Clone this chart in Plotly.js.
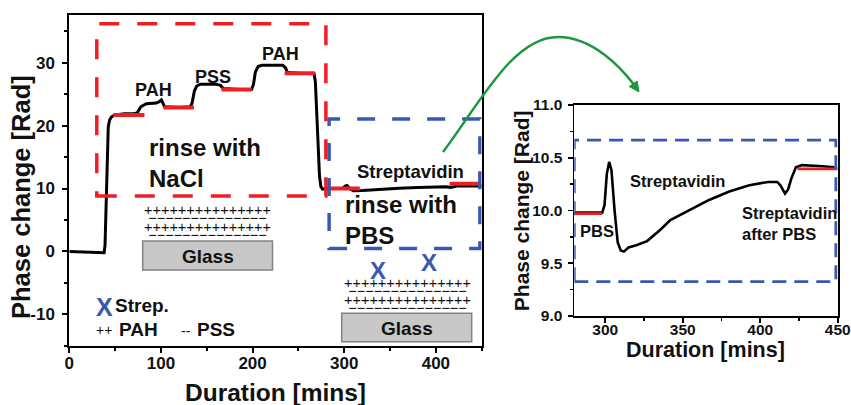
<!DOCTYPE html>
<html>
<head>
<meta charset="utf-8">
<script src="https://cdn.plot.ly/plotly-3.0.1.min.js"></script>
<style>html,body{margin:0;padding:0;background:#fff;}#chart{width:851px;height:405px;}</style>
</head>
<body>
<div id="chart"></div>
<script>
// ---------- DATA ----------
// main panel: full layer-by-layer deposition trace
var mainTime  = [0, 20, 37, 38, 39, 40, 41.2, 42.5, 44, 46, 50, 60, 70, 74, 78, 84, 95, 98, 100.5, 102.5, 104, 120, 132, 134, 136.5, 139, 143, 160, 165, 168, 185, 199, 201, 203, 206, 210, 233, 236, 238, 250, 267, 268.5, 270, 271.5, 273, 274.5, 276.5, 282, 298, 301, 303, 306, 310, 320, 340, 360, 380, 400, 411, 416, 423, 450];
var mainPhase = [0, -0.1, -0.25, -0.2, 1, 8, 16, 19.8, 20.9, 21.4, 21.7, 21.9, 21.9, 22.0, 23.0, 23.5, 23.6, 23.8, 24.1, 23.6, 23.0, 22.9, 23.0, 23.6, 25.5, 26.3, 26.6, 26.6, 26.4, 25.9, 25.75, 25.8, 26.6, 28.5, 29.4, 29.6, 29.6, 29.2, 28.5, 28.35, 28.3, 27, 22, 16, 12, 10.3, 9.9, 10.0, 10.0, 10.4, 10.5, 10.0, 9.65, 9.68, 9.9, 10.05, 10.18, 10.25, 10.27, 10.15, 10.4, 10.42];
// main panel: rinse plateaus (red)
var rinseStart = [48, 103, 166, 235, 282, 415];
var rinseEnd   = [82, 136, 199, 268, 317, 448];
var rinseLevel = [21.7, 22.9, 25.75, 28.35, 10.0, 10.75];

// inset: streptavidin binding
var insetTime  = [280, 290, 298, 299.5, 301, 302.5, 304, 306, 308, 310, 312, 315, 320, 327, 335, 342, 350, 357, 367, 380, 393, 405, 411, 413, 416, 418, 420, 423, 427, 440, 448];
var insetPhase = [9.98, 9.98, 9.98, 10.05, 10.35, 10.46, 10.38, 10.0, 9.7, 9.62, 9.61, 9.65, 9.67, 9.71, 9.81, 9.91, 9.97, 10.02, 10.1, 10.18, 10.24, 10.27, 10.27, 10.24, 10.16, 10.2, 10.3, 10.41, 10.43, 10.42, 10.41];
var insetRinseStart = [280, 424];
var insetRinseEnd   = [298, 450];
var insetRinseLevel = [9.97, 10.395];

// tick labels
var mainXTicks = [0, 100, 200, 300, 400];
var mainYTicks = [-10, 0, 10, 20, 30];
var mainYText  = ['-10', '0', '10', '20', '30'];
var insetXTicks = [300, 350, 400, 450];
var insetYTicks = [9.0, 9.5, 10.0, 10.5, 11.0];

// ---------- HELPERS ----------
var W = 851, H = 405;
var FONT = 'Liberation Sans, Arial, sans-serif';
var RED = 'rgb(238,30,36)';
var BLUE = 'rgb(58,88,178)';
var GREEN = 'rgb(30,150,60)';
function px(x){ return x / W; }
function py(y){ return 1 - y / H; }
function segTrace(s, e, v, xa, ya, w){
  var xs = [], ys = [];
  for (var i = 0; i < s.length; i++){ xs.push(s[i], e[i], null); ys.push(v[i], v[i], null); }
  return {x: xs, y: ys, xaxis: xa, yaxis: ya, mode: 'lines', line: {color: RED, width: w}, hoverinfo: 'skip'};
}
function ann(text, x, y, size, o){
  o = o || {};
  return {text: text, x: px(x), y: py(y), xref: 'paper', yref: 'paper', showarrow: false,
    xanchor: o.xa || 'center', yanchor: 'middle', textangle: o.angle || 0, align: o.xa || 'center',
    font: {family: FONT, size: size, color: o.color || '#111', weight: o.normal ? 'normal' : 'bold'}};
}

// ---------- TRACES ----------
var traces = [
  {x: mainTime, y: mainPhase, xaxis: 'x', yaxis: 'y', mode: 'lines', line: {color: '#000', width: 3}},
  segTrace(rinseStart, rinseEnd, rinseLevel, 'x', 'y', 4),
  {x: insetTime, y: insetPhase, xaxis: 'x2', yaxis: 'y2', mode: 'lines', line: {color: '#000', width: 2.6}},
  segTrace(insetRinseStart, insetRinseEnd, insetRinseLevel, 'x2', 'y2', 2.6)
];

// ---------- AXES ----------
function axisBase(){
  return {showline: true, linecolor: '#000', linewidth: 2, mirror: true, ticks: 'outside',
    ticklen: 5, tickwidth: 2, tickcolor: '#000', showgrid: false, zeroline: false, fixedrange: true,
    tickfont: {family: FONT, size: 17, color: '#111', weight: 'bold'}};
}
var xa = axisBase();
Object.assign(xa, {domain: [px(69.3), px(481.7)], range: [0, 450], anchor: 'y', tickmode: 'array', tickvals: mainXTicks,
  minor: {ticks: 'outside', ticklen: 3, tickwidth: 2, tickcolor: '#000', dtick: 50, tick0: 0}, ticklabelstandoff: -4});
var ya = axisBase();
Object.assign(ya, {domain: [py(345.7), py(15)], range: [-15, 37.6], anchor: 'x', tickmode: 'array', tickvals: mainYTicks, ticktext: mainYText,
  minor: {ticks: 'outside', ticklen: 3, tickwidth: 2, tickcolor: '#000', dtick: 5, tick0: 0}, ticklabelstandoff: 4});
var xa2 = axisBase();
Object.assign(xa2, {domain: [px(574.3), px(837.7)], range: [280, 450], anchor: 'y2', tickmode: 'array', tickvals: insetXTicks,
  minor: {ticks: 'outside', ticklen: 3, tickwidth: 1.5, tickcolor: '#000', dtick: 25, tick0: 0}, linewidth: 1.8, tickwidth: 1.8,
  tickfont: {family: FONT, size: 15.5, color: '#111', weight: 'bold'}, ticklabelstandoff: -6});
var ya2 = axisBase();
Object.assign(ya2, {domain: [py(316), py(105)], range: [9, 11], anchor: 'x2', tickmode: 'array', tickvals: insetYTicks, tickformat: '.1f',
  minor: {ticks: 'outside', ticklen: 3, tickwidth: 1.5, tickcolor: '#000', dtick: 0.25, tick0: 0}, linewidth: 1.8, tickwidth: 1.8,
  tickfont: {family: FONT, size: 15.5, color: '#111', weight: 'bold'}, ticklabelstandoff: 2});

// ---------- SHAPES ----------
var shapes = [
  // red dashed box (NaCl rinse region)
  {type: 'rect', xref: 'x', yref: 'y', x0: 30, x1: 280, y0: 8.8, y1: 36.2, line: {color: RED, width: 3.5, dash: '20px,18px'}},
  // blue dashed box (PBS region)
  {type: 'rect', xref: 'x', yref: 'y', x0: 283.5, x1: 448, y0: 0.45, y1: 21.05, line: {color: BLUE, width: 3.5, dash: '18px,17px'}},
  // inset blue dashed box
  {type: 'rect', xref: 'x2', yref: 'y2', x0: 280, x1: 448.8, y0: 9.325, y1: 10.668, line: {color: BLUE, width: 2.8, dash: '14px,8px'}},
  // glass slabs
  {type: 'rect', xref: 'paper', yref: 'paper', x0: px(142.7), x1: px(272.5), y0: py(270), y1: py(241), fillcolor: 'rgb(200,200,200)', line: {color: 'rgb(130,130,130)', width: 1.5}},
  {type: 'rect', xref: 'paper', yref: 'paper', x0: px(341.7), x1: px(471.7), y0: py(341.7), y1: py(313.3), fillcolor: 'rgb(200,200,200)', line: {color: 'rgb(130,130,130)', width: 1.5}},
  // green curved arrow
  {type: 'path', xref: 'paper', yref: 'paper', line: {color: GREEN, width: 2.5},
    path: 'M ' + px(443) + ',' + py(152) + ' C ' + px(480) + ',' + py(103) + ' ' + px(513) + ',' + py(37) + ' ' + px(558) + ',' + py(37) +
          ' C ' + px(593) + ',' + py(37) + ' ' + px(621) + ',' + py(68) + ' ' + px(633.5) + ',' + py(84)},
  {type: 'path', xref: 'paper', yref: 'paper', line: {color: GREEN, width: 1}, fillcolor: GREEN,
    path: 'M ' + px(639) + ',' + py(92) + ' L ' + px(629.3) + ',' + py(86.6) + ' L ' + px(637.2) + ',' + py(81) + ' Z'}
];

// ---------- TEXT ----------
var plus = '+++++++++++++++';
var minus = '\u2212\u2212\u2212\u2212\u2212\u2212\u2212\u2212\u2212\u2212\u2212\u2212\u2212\u2212';
function big(s){ return '<span style="font-size:14.5px">' + s + '</span>'; }
var stack = big(plus) + '<br>' + big(minus) + '<br>' + big(plus) + '<br>' + big(minus);
var annotations = [
  ann('Phase change [Rad]', 21, 197, 25.5, {angle: -90}),
  ann('Duration [mins]', 275.5, 392, 24.5),
  ann('Phase change [Rad]', 521.7, 210.5, 21, {angle: -90}),
  ann('Duration [mins]', 705.3, 350, 21.5),
  ann('PAH', 153.7, 90, 18),
  ann('PSS', 212.5, 76.5, 18),
  ann('PAH', 280, 54, 18),
  ann('rinse with<br>NaCl', 147, 163, 24, {xa: 'left'}),
  ann('Streptavidin', 410, 171.5, 18.5),
  ann('rinse with<br>PBS', 342.5, 220.5, 24, {xa: 'left'}),
  ann('X', 378, 270, 24, {color: BLUE}),
  ann('X', 429, 262, 24, {color: BLUE}),
  ann(stack, 207, 222.5, 6.4, {normal: true}),
  ann('Glass', 207.7, 256, 19),
  ann(stack, 407.5, 295.5, 6.4, {normal: true}),
  ann('Glass', 407, 328.5, 19),
  ann('X', 104, 306.5, 25, {color: BLUE}),
  ann('Strep.', 113, 305.5, 19, {xa: 'left'}),
  ann('++', 103.5, 330, 14, {normal: true}),
  ann('PAH', 117, 329, 19, {xa: 'left'}),
  ann('--', 186, 331, 14, {normal: true}),
  ann('PSS', 195, 329, 19, {xa: 'left'}),
  ann('Streptavidin', 677.5, 181, 16.5),
  ann('PBS', 577.5, 231, 16.5, {xa: 'left'}),
  ann('Streptavidin<br>after PBS', 739.5, 224, 16.5, {xa: 'left'})
];

var layout = {
  width: W, height: H, margin: {l: 0, r: 0, t: 0, b: 0},
  paper_bgcolor: '#fff', plot_bgcolor: 'rgba(0,0,0,0)', showlegend: false,
  xaxis: xa, yaxis: ya, xaxis2: xa2, yaxis2: ya2,
  shapes: shapes, annotations: annotations
};
Plotly.newPlot('chart', traces, layout, {staticPlot: true, displayModeBar: false});
</script>
</body>
</html>
